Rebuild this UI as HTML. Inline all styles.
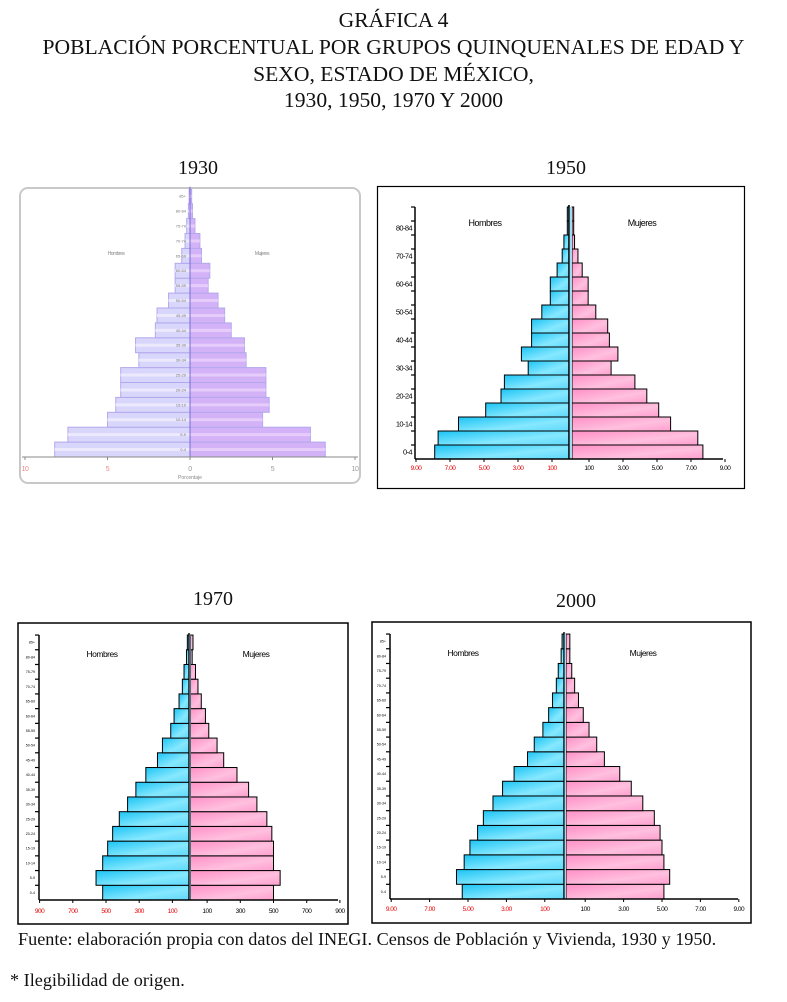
<!DOCTYPE html>
<html><head><meta charset="utf-8">
<style>
html,body{margin:0;padding:0;background:#fff;}
body{width:787px;height:1002px;position:relative;overflow:hidden;font-family:"Liberation Serif",serif;color:#111;}
.t{position:absolute;left:0;width:787px;text-align:center;font-size:21.6px;line-height:26.5px;}
.yr{position:absolute;font-size:20px;}
svg{position:absolute;left:0;top:0;}
</style></head>
<body>
<div class="t" style="top:7px;">GRÁFICA 4</div>
<div class="t" style="top:34px;">POBLACIÓN PORCENTUAL POR GRUPOS QUINQUENALES DE EDAD Y<br>SEXO, ESTADO DE MÉXICO,<br>1930, 1950, 1970 Y 2000</div>
<div class="yr" style="left:178px;top:157px;">1930</div>
<div class="yr" style="left:546px;top:157px;">1950</div>
<div class="yr" style="left:193px;top:588px;">1970</div>
<div class="yr" style="left:556px;top:590px;">2000</div>
<div style="position:absolute;left:18px;top:929px;font-size:18.2px;white-space:nowrap;">Fuente: elaboración propia con datos del INEGI. Censos de Población y Vivienda, 1930 y 1950.</div>
<div style="position:absolute;left:10px;top:970px;font-size:18.2px;">* Ilegibilidad de origen.</div>

<svg id="s" width="787" height="1002" xmlns="http://www.w3.org/2000/svg">
<defs>
<linearGradient id="gm" x1="0" y1="0" x2="1" y2="1"><stop offset="0" stop-color="#1cc4f4"/><stop offset="0.6" stop-color="#86e8ff"/><stop offset="1" stop-color="#5fd8fa"/></linearGradient>
<linearGradient id="gw" x1="0" y1="0" x2="1" y2="1"><stop offset="0" stop-color="#ff8fc6"/><stop offset="0.6" stop-color="#ffc0de"/><stop offset="1" stop-color="#ff9fcf"/></linearGradient>
</defs>
</svg>

<script>
// Data: age groups 0-4 ... 85+ (bottom to top), percentages
var ageGroups = ["0-4","5-9","10-14","15-19","20-24","25-29","30-34","35-39","40-44","45-49","50-54","55-59","60-64","65-69","70-74","75-79","80-84","85+"];
var men1930   = [8.2,7.4,5.0,4.5,4.2,4.2,3.1,3.3,2.1,2.0,1.3,0.9,0.9,0.5,0.3,0.2,0.1,0.05];
var women1930 = [8.2,7.3,4.4,4.8,4.6,4.6,3.4,3.3,2.5,2.1,1.7,1.1,1.2,0.7,0.6,0.3,0.15,0.1];
var men1950   = [7.9,7.7,6.5,4.9,4.0,3.8,2.4,2.8,2.2,2.2,1.6,1.1,1.1,0.7,0.4,0.3,0.1,0.1];
var women1950 = [7.7,7.4,5.8,5.1,4.4,3.7,2.3,2.7,2.2,2.1,1.4,0.95,0.95,0.6,0.35,0.15,0.1,0.1];
var men1970   = [5.2,5.6,5.2,4.9,4.6,4.2,3.7,3.2,2.6,1.9,1.6,1.1,0.9,0.6,0.4,0.3,0.15,0.1];
var women1970 = [5.0,5.4,5.0,5.0,4.9,4.6,4.0,3.5,2.8,2.0,1.6,1.1,0.9,0.65,0.45,0.3,0.1,0.15];
var men2000   = [5.3,5.6,5.2,4.9,4.5,4.2,3.7,3.2,2.6,1.9,1.55,1.1,0.8,0.6,0.4,0.3,0.15,0.1];
var women2000 = [5.1,5.4,5.1,5.0,4.9,4.6,4.0,3.4,2.8,2.0,1.6,1.2,0.9,0.65,0.45,0.3,0.2,0.2];
var ticks1930 = [-10,-5,0,5,10];
var tickLabels1930 = ["10","5","0","5","10"];
var ticksSplit = [-9,-7,-5,-3,-1,1,3,5,7,9];
var tickLabels1950 = ["9.00","7.00","5.00","3.00","100","100","3.00","5.00","7.00","9.00"];
var tickLabels1970 = ["900","700","500","300","100","100","300","500","700","900"];

var NS="http://www.w3.org/2000/svg";
var svg=document.getElementById('s');
function mk(tag,attrs,parent){var e=document.createElementNS(NS,tag);for(var k in attrs)e.setAttribute(k,attrs[k]);(parent||svg).appendChild(e);return e;}

function pyramid(cfg, men, women, tickVals, tickLabels, name){
  var g=mk('g',{});
  
  
  var xM=function(v){return cfg.cx - v*cfg.unit;};
  var xW=function(v){return cfg.wx + v*cfg.unit;};
  var yRow=function(i){return cfg.axisY - (i+1)*cfg.rowH;};
  var fr=mk('rect',{x:cfg.box[0],y:cfg.box[1],width:cfg.box[2],height:cfg.box[3],fill:'none',stroke:cfg.frame,'stroke-width':cfg.frameW,rx:cfg.rx||0},g);
  
  
  for(var i=0;i<ageGroups.length;i++){
    var y=yRow(i);
    var bm=mk('rect',{x:xM(men[i]),y:y,width:cfg.cx-xM(men[i]),height:cfg.rowH,fill:cfg.mFill,stroke:cfg.barStroke,'stroke-width':cfg.bw},g);
    
    
    var bw=mk('rect',{x:cfg.wx,y:y,width:xW(women[i])-cfg.wx,height:cfg.rowH,fill:cfg.wFill,stroke:cfg.barStroke,'stroke-width':cfg.bw},g);
    
    
    if(cfg.stripe){
      mk('line',{x1:xM(men[i]),x2:cfg.cx,y1:y+cfg.rowH/2,y2:y+cfg.rowH/2,stroke:'#ece9fd','stroke-width':3},g);
      mk('line',{x1:cfg.wx,x2:xW(women[i]),y1:y+cfg.rowH/2,y2:y+cfg.rowH/2,stroke:'#e6ccfb','stroke-width':3},g);
    }
    if(cfg.every && i%cfg.every===0){
      var lb=mk('text',{x:cfg.labX,y:y+cfg.rowH/2+cfg.labFs*0.35,'font-size':cfg.labFs,'text-anchor':cfg.labAnchor,fill:cfg.labFill,'font-family':'Liberation Sans, sans-serif','letter-spacing':cfg.labLs||0},g);
      lb.textContent=ageGroups[i];
      
      
    }
    if(cfg.yAxisX!==undefined) mk('line',{x1:cfg.yAxisX-4,x2:cfg.yAxisX,y1:y,y2:y,stroke:'#000','stroke-width':1.2},g);
  }
  mk('line',{x1:cfg.cx,x2:cfg.cx,y1:yRow(ageGroups.length-1)-2,y2:cfg.axisY,stroke:cfg.centerC,'stroke-width':cfg.centerW},g);
  if(cfg.gap) mk('rect',{x:cfg.cx+0.8,y:yRow(ageGroups.length-1),width:cfg.wx-cfg.cx-0.8,height:cfg.axisY-yRow(ageGroups.length-1),fill:'#9fdcf4'},g);
  mk('line',{x1:cfg.axisL,x2:cfg.axisR,y1:cfg.axisY,y2:cfg.axisY,stroke:cfg.axisC,'stroke-width':cfg.axisW},g);
  if(cfg.yAxisX!==undefined) mk('line',{x1:cfg.yAxisX,x2:cfg.yAxisX,y1:yRow(ageGroups.length-1),y2:cfg.axisY,stroke:'#000','stroke-width':1.5},g);
  for(var t=0;t<tickVals.length;t++){
    var v=tickVals[t]; var x= v<0? xM(-v) : (v===0? cfg.cx : (cfg.splitTicks? xW(v): cfg.cx+v*cfg.unit));
    mk('line',{x1:x,x2:x,y1:cfg.axisY,y2:cfg.axisY+3,stroke:cfg.axisC,'stroke-width':1},g);
    var tx=mk('text',{x:x,y:cfg.tickY,'font-size':cfg.tickFs,'text-anchor':'middle',fill:(v<0||t===0)?cfg.negC:cfg.posC,'font-family':'Liberation Sans, sans-serif','letter-spacing':'-0.5'},g);
    tx.textContent=tickLabels[t];
    
    
  }
  var h=mk('text',{x:cfg.hx,y:cfg.hy,'font-size':cfg.hfs,fill:cfg.hC,'font-family':'Liberation Sans, sans-serif','text-anchor':'middle','letter-spacing':'-0.5'},g);
  h.textContent='Hombres';
  
  
  var m=mk('text',{x:cfg.mx,y:cfg.hy,'font-size':cfg.hfs,fill:cfg.hC,'font-family':'Liberation Sans, sans-serif','text-anchor':'middle','letter-spacing':'-0.5'},g);
  m.textContent='Mujeres';
  
  
  if(cfg.xTitle){
    var xt=mk('text',{x:cfg.cx,y:cfg.tickY+8,'font-size':5,fill:'#888','text-anchor':'middle','font-family':'Liberation Sans, sans-serif'},g);
    xt.textContent='Porcentaje';
    
    
  }
}

pyramid({box:[20,188,340,295],frame:'#c8c8c8',frameW:2,rx:8,cx:190,wx:190,unit:16.5,axisY:457,rowH:14.9,
  mFill:'#d9d6fb',wFill:'#d3b2f7',barStroke:'#b3a8ee',bw:1,stripe:true,every:1,labX:186,labFs:4,labAnchor:'end',labFill:'#777',
  centerC:'#7a6ad8',centerW:1,axisL:22,axisR:358,axisC:'#888',axisW:1,tickY:471,tickFs:7,negC:'#e88',posC:'#999',
  hx:116,mx:262,hy:255,hfs:5,hC:'#888',xTitle:true}, men1930, women1930, ticks1930, tickLabels1930, 'pyramid-1930');

pyramid({box:[377.5,186.5,367,302],frame:'#000',frameW:1.2,cx:569,wx:572,unit:17,axisY:459,rowH:14,
  mFill:'url(#gm)',wFill:'url(#gw)',barStroke:'#000',bw:1,every:2,labX:412,labFs:7.5,labAnchor:'end',labFill:'#000',labLs:-0.6,
  yAxisX:415,centerC:'#000',centerW:1.6,gap:true,splitTicks:true,axisL:415,axisR:723,axisC:'#000',axisW:1.5,tickY:470,tickFs:6.5,negC:'#e00',posC:'#000',
  hx:485,mx:642,hy:226,hfs:9,hC:'#000'}, men1950, women1950, ticksSplit, tickLabels1950, 'pyramid-1950');

pyramid({box:[18,623,330,301],frame:'#000',frameW:1.5,cx:189,wx:190.5,unit:16.6,axisY:900,rowH:14.72,
  mFill:'url(#gm)',wFill:'url(#gw)',barStroke:'#000',bw:1,every:1,labX:35,labFs:3.6,labAnchor:'end',labFill:'#000',
  yAxisX:39,centerC:'#000',centerW:1.4,gap:true,splitTicks:true,axisL:39,axisR:338,axisC:'#000',axisW:1.5,tickY:913,tickFs:6.5,negC:'#e00',posC:'#000',
  hx:102,mx:256,hy:657,hfs:8.5,hC:'#000'}, men1970, women1970, ticksSplit, tickLabels1970, 'pyramid-1970');

pyramid({box:[372,622,379,301],frame:'#000',frameW:1.5,cx:564,wx:566,unit:19.2,axisY:899,rowH:14.72,
  mFill:'url(#gm)',wFill:'url(#gw)',barStroke:'#000',bw:1,every:1,labX:386,labFs:3.6,labAnchor:'end',labFill:'#000',
  yAxisX:390,centerC:'#000',centerW:1.4,gap:true,splitTicks:true,axisL:390,axisR:738,axisC:'#000',axisW:1.5,tickY:911,tickFs:6.5,negC:'#e00',posC:'#000',
  hx:463,mx:643,hy:656,hfs:8.5,hC:'#000'}, men2000, women2000, ticksSplit, tickLabels1950, 'pyramid-2000');
</script>
</body></html>
